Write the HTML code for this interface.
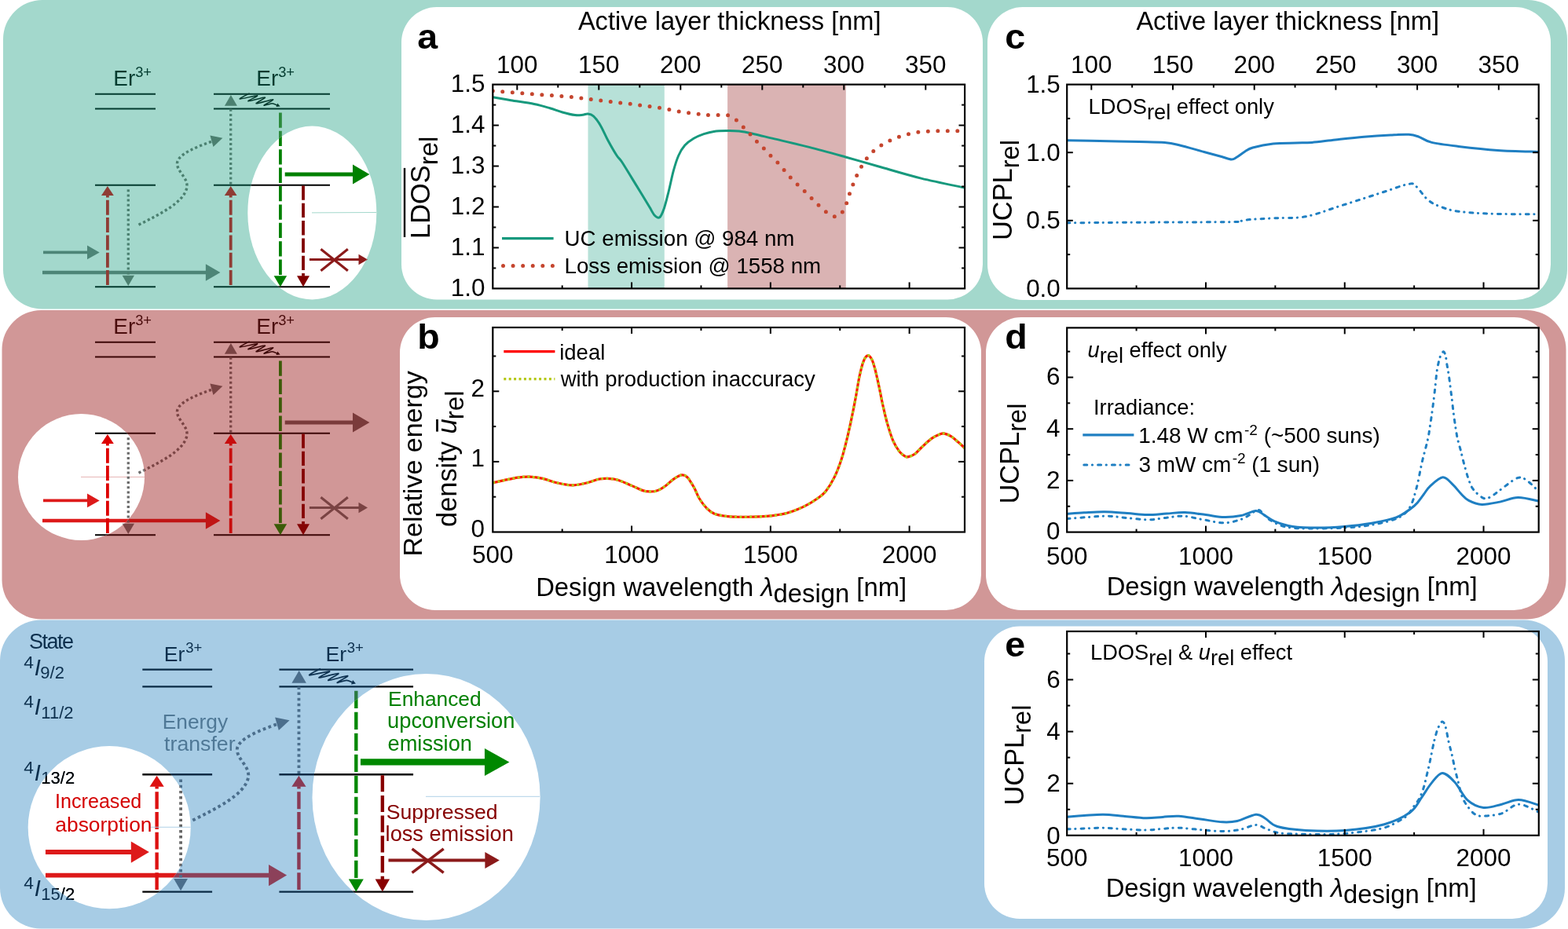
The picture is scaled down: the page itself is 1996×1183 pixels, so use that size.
<!DOCTYPE html><html><head><meta charset="utf-8"><title>Figure</title><style>html,body{margin:0;padding:0;background:#fff;}body{width:1996px;height:1183px;overflow:hidden;}svg{display:block;font-family:'Liberation Sans', Arial, sans-serif;}</style></head><body>
<svg width="1996" height="1183" viewBox="0 0 1996 1183">
<rect x="0" y="0" width="1996" height="1183" fill="#fff"/>
<rect x="4" y="0" width="1991" height="393.6" rx="50" ry="50" fill="#a3d8cc"/>
<rect x="2.5" y="395" width="1991" height="393.5" rx="50" ry="50" fill="#d19797"/>
<rect x="0" y="789.5" width="1992" height="393" rx="52" ry="52" fill="#a7cce5"/>
<rect x="511" y="9" width="740" height="372.5" rx="45" ry="45" fill="#fff"/>
<rect x="1257" y="9" width="717" height="373" rx="45" ry="45" fill="#fff"/>
<rect x="509" y="404" width="740" height="373" rx="45" ry="45" fill="#fff"/>
<rect x="1255" y="404" width="717" height="373" rx="45" ry="45" fill="#fff"/>
<rect x="1253" y="797.5" width="717" height="372.5" rx="45" ry="45" fill="#fff"/>
<defs><clipPath id="hl1"><ellipse cx="397.3" cy="271" rx="82" ry="110.4"/></clipPath><clipPath id="hl2"><circle cx="103.5" cy="291.5" r="80.5"/></clipPath><clipPath id="hl3"><circle cx="84.5" cy="294.1" r="89.8"/><ellipse cx="434.3" cy="260.6" rx="125.8" ry="136.2"/></clipPath></defs>
<g>
<text x="144.3" y="108.9" font-size="27.9" fill="#033b2f">Er<tspan dy="-10.9" font-size="18.3">3+</tspan></text>
<text x="326.3" y="108.9" font-size="27.9" fill="#033b2f">Er<tspan dy="-10.9" font-size="18.3">3+</tspan></text>
<line x1="121" y1="119.8" x2="198" y2="119.8" stroke="#033b2f" stroke-width="2" />
<line x1="272" y1="119.8" x2="420" y2="119.8" stroke="#033b2f" stroke-width="2" />
<line x1="121" y1="138.6" x2="198" y2="138.6" stroke="#033b2f" stroke-width="2" />
<line x1="272" y1="138.6" x2="420" y2="138.6" stroke="#033b2f" stroke-width="2" />
<line x1="121" y1="235.7" x2="198" y2="235.7" stroke="#033b2f" stroke-width="2" />
<line x1="272" y1="235.7" x2="420" y2="235.7" stroke="#033b2f" stroke-width="2" />
<line x1="121" y1="365.2" x2="198" y2="365.2" stroke="#033b2f" stroke-width="2" />
<line x1="272" y1="365.2" x2="420" y2="365.2" stroke="#033b2f" stroke-width="2" />
<line x1="55" y1="321.4" x2="111.5" y2="321.4" stroke="#4d8577" stroke-width="3.6" stroke-linecap="butt" />
<polygon points="126.7,321.4 111,330.25 111,312.55" fill="#4d8577"/>
<line x1="54" y1="347" x2="262.4" y2="347" stroke="#4d8577" stroke-width="4.4" stroke-linecap="butt" />
<polygon points="280.4,347 261.9,357.75 261.9,336.25" fill="#4d8577"/>
<line x1="136.9" y1="363" x2="136.9" y2="248.6" stroke="#8f3c34" stroke-width="3.8" stroke-linecap="butt" stroke-dasharray="19 3.3"/>
<polygon points="136.9,236.9 144.8,249.1 129,249.1" fill="#8f3c34"/>
<line x1="163.3" y1="241.2" x2="163.3" y2="351.3" stroke="#4b8070" stroke-width="3.3" stroke-linecap="butt" stroke-dasharray="3 3.2"/>
<polygon points="163.3,364 155.6,350.8 171,350.8" fill="#4b8070"/>
<path d="M176.5,286.3 C205,272 233,258 237.6,240 C241,227 224,218 225.6,207 C227.5,196 250,187 271,179.6" fill="none" stroke="#4b8070" stroke-width="3.4" stroke-dasharray="3.2 3.1"/>
<polygon points="283.4,175.8 271.5,186.97 267.4,172.54" fill="#4b8070"/>
<line x1="293.7" y1="234.7" x2="293.7" y2="136.5" stroke="#4b8070" stroke-width="3.3" stroke-dasharray="3 3.2"/>
<polygon points="293.9,121 301.9,134.7 285.9,134.7" fill="#4b8070"/>
<line x1="293.7" y1="363" x2="293.7" y2="248.6" stroke="#8f3c34" stroke-width="3.8" stroke-linecap="butt" stroke-dasharray="19 3.3"/>
<polygon points="293.7,236.9 301.6,249.1 285.8,249.1" fill="#8f3c34"/>
<path d="M317.6,118.9 C315.86,119.91 303.88,125.6 305.3,126 C306.72,126.4 326.08,121.3 327.6,121.7 C329.12,122.1 314.61,128.46 316,128.8 C317.39,129.14 335.95,123.67 337.4,124.1 C338.84,124.52 324.75,131.42 326.2,131.8 C327.64,132.18 346.21,126.46 347.6,126.8 C348.99,127.14 336.18,133.51 336,134.2 C335.82,134.89 343.89,131.7 346.3,131.7 C348.71,131.7 352.05,133.85 353,134.2" fill="none" stroke="#063a2e" stroke-width="1.5"/>
<polygon points="356.6,135.4 351.42,136.07 353.22,131.42" fill="#063a2e"/>
<line x1="356.9" y1="143.4" x2="356.9" y2="351.7" stroke="#2b8a3b" stroke-width="3.8" stroke-linecap="butt" stroke-dasharray="19.3 4.1"/>
<polygon points="356.9,365.2 348.65,351.2 365.15,351.2" fill="#2b8a3b"/>
<line x1="386" y1="236.5" x2="386" y2="351.7" stroke="#7d2020" stroke-width="3.8" stroke-linecap="butt" stroke-dasharray="18.3 4"/>
<polygon points="386,365.2 378,351.2 394,351.2" fill="#7d2020"/>
<line x1="362.7" y1="222" x2="449.5" y2="222" stroke="#1a8a2a" stroke-width="5.2" stroke-linecap="butt" />
<polygon points="470.4,222 449,234.5 449,209.5" fill="#1a8a2a"/>
<line x1="393.9" y1="330.5" x2="457" y2="330.5" stroke="#8b1a1a" stroke-width="2.9" stroke-linecap="butt" />
<polygon points="468,330.5 456.5,337.3 456.5,323.7" fill="#8b1a1a"/>
<line x1="408.4" y1="344.8" x2="442.8" y2="317.2" stroke="#8b1a1a" stroke-width="3.1" />
<line x1="408.4" y1="317.2" x2="442.8" y2="344.8" stroke="#8b1a1a" stroke-width="3.1" />
<ellipse cx="397.3" cy="271" rx="82" ry="110.4" fill="#fff"/>
<line x1="397" y1="270.9" x2="479" y2="270.5" stroke="#a3d8cc" stroke-width="1"/>
<g clip-path="url(#hl1)">
<text x="144.3" y="108.9" font-size="27.9" fill="#033b2f">Er<tspan dy="-10.9" font-size="18.3">3+</tspan></text>
<text x="326.3" y="108.9" font-size="27.9" fill="#033b2f">Er<tspan dy="-10.9" font-size="18.3">3+</tspan></text>
<line x1="121" y1="119.8" x2="198" y2="119.8" stroke="#000" stroke-width="2" />
<line x1="272" y1="119.8" x2="420" y2="119.8" stroke="#000" stroke-width="2" />
<line x1="121" y1="138.6" x2="198" y2="138.6" stroke="#000" stroke-width="2" />
<line x1="272" y1="138.6" x2="420" y2="138.6" stroke="#000" stroke-width="2" />
<line x1="121" y1="235.7" x2="198" y2="235.7" stroke="#000" stroke-width="2" />
<line x1="272" y1="235.7" x2="420" y2="235.7" stroke="#000" stroke-width="2" />
<line x1="121" y1="365.2" x2="198" y2="365.2" stroke="#000" stroke-width="2" />
<line x1="272" y1="365.2" x2="420" y2="365.2" stroke="#000" stroke-width="2" />
<line x1="55" y1="321.4" x2="111.5" y2="321.4" stroke="#4d8577" stroke-width="3.6" stroke-linecap="butt" />
<polygon points="126.7,321.4 111,330.25 111,312.55" fill="#4d8577"/>
<line x1="54" y1="347" x2="262.4" y2="347" stroke="#4d8577" stroke-width="4.4" stroke-linecap="butt" />
<polygon points="280.4,347 261.9,357.75 261.9,336.25" fill="#4d8577"/>
<line x1="136.9" y1="363" x2="136.9" y2="248.6" stroke="#8f3c34" stroke-width="3.8" stroke-linecap="butt" stroke-dasharray="19 3.3"/>
<polygon points="136.9,236.9 144.8,249.1 129,249.1" fill="#8f3c34"/>
<line x1="163.3" y1="241.2" x2="163.3" y2="351.3" stroke="#4b8070" stroke-width="3.3" stroke-linecap="butt" stroke-dasharray="3 3.2"/>
<polygon points="163.3,364 155.6,350.8 171,350.8" fill="#4b8070"/>
<path d="M176.5,286.3 C205,272 233,258 237.6,240 C241,227 224,218 225.6,207 C227.5,196 250,187 271,179.6" fill="none" stroke="#4b8070" stroke-width="3.4" stroke-dasharray="3.2 3.1"/>
<polygon points="283.4,175.8 271.5,186.97 267.4,172.54" fill="#4b8070"/>
<line x1="293.7" y1="234.7" x2="293.7" y2="136.5" stroke="#4b8070" stroke-width="3.3" stroke-dasharray="3 3.2"/>
<polygon points="293.9,121 301.9,134.7 285.9,134.7" fill="#4b8070"/>
<line x1="293.7" y1="363" x2="293.7" y2="248.6" stroke="#8f3c34" stroke-width="3.8" stroke-linecap="butt" stroke-dasharray="19 3.3"/>
<polygon points="293.7,236.9 301.6,249.1 285.8,249.1" fill="#8f3c34"/>
<path d="M317.6,118.9 C315.86,119.91 303.88,125.6 305.3,126 C306.72,126.4 326.08,121.3 327.6,121.7 C329.12,122.1 314.61,128.46 316,128.8 C317.39,129.14 335.95,123.67 337.4,124.1 C338.84,124.52 324.75,131.42 326.2,131.8 C327.64,132.18 346.21,126.46 347.6,126.8 C348.99,127.14 336.18,133.51 336,134.2 C335.82,134.89 343.89,131.7 346.3,131.7 C348.71,131.7 352.05,133.85 353,134.2" fill="none" stroke="#063a2e" stroke-width="1.5"/>
<polygon points="356.6,135.4 351.42,136.07 353.22,131.42" fill="#063a2e"/>
<line x1="356.9" y1="143.4" x2="356.9" y2="351.7" stroke="#008000" stroke-width="3.8" stroke-linecap="butt" stroke-dasharray="19.3 4.1"/>
<polygon points="356.9,365.2 348.65,351.2 365.15,351.2" fill="#008000"/>
<line x1="386" y1="236.5" x2="386" y2="351.7" stroke="#800000" stroke-width="3.8" stroke-linecap="butt" stroke-dasharray="18.3 4"/>
<polygon points="386,365.2 378,351.2 394,351.2" fill="#800000"/>
<line x1="362.7" y1="222" x2="449.5" y2="222" stroke="#008000" stroke-width="5.2" stroke-linecap="butt" />
<polygon points="470.4,222 449,234.5 449,209.5" fill="#008000"/>
<line x1="393.9" y1="330.5" x2="457" y2="330.5" stroke="#8b1a1a" stroke-width="2.9" stroke-linecap="butt" />
<polygon points="468,330.5 456.5,337.3 456.5,323.7" fill="#8b1a1a"/>
<line x1="408.4" y1="344.8" x2="442.8" y2="317.2" stroke="#8b1a1a" stroke-width="3.1" />
<line x1="408.4" y1="317.2" x2="442.8" y2="344.8" stroke="#8b1a1a" stroke-width="3.1" />
</g></g>
<g transform="translate(0,316)">
<text x="144.3" y="108.9" font-size="27.9" fill="#4a0c0c">Er<tspan dy="-10.9" font-size="18.3">3+</tspan></text>
<text x="326.3" y="108.9" font-size="27.9" fill="#4a0c0c">Er<tspan dy="-10.9" font-size="18.3">3+</tspan></text>
<line x1="121" y1="119.8" x2="198" y2="119.8" stroke="#3b0606" stroke-width="2" />
<line x1="272" y1="119.8" x2="420" y2="119.8" stroke="#3b0606" stroke-width="2" />
<line x1="121" y1="138.6" x2="198" y2="138.6" stroke="#3b0606" stroke-width="2" />
<line x1="272" y1="138.6" x2="420" y2="138.6" stroke="#3b0606" stroke-width="2" />
<line x1="121" y1="235.7" x2="198" y2="235.7" stroke="#3b0606" stroke-width="2" />
<line x1="272" y1="235.7" x2="420" y2="235.7" stroke="#3b0606" stroke-width="2" />
<line x1="121" y1="365.2" x2="198" y2="365.2" stroke="#3b0606" stroke-width="2" />
<line x1="272" y1="365.2" x2="420" y2="365.2" stroke="#3b0606" stroke-width="2" />
<line x1="55" y1="321.4" x2="111.5" y2="321.4" stroke="#c01515" stroke-width="3.6" stroke-linecap="butt" />
<polygon points="126.7,321.4 111,330.25 111,312.55" fill="#c01515"/>
<line x1="54" y1="347" x2="262.4" y2="347" stroke="#c01515" stroke-width="4.4" stroke-linecap="butt" />
<polygon points="280.4,347 261.9,357.75 261.9,336.25" fill="#c01515"/>
<line x1="136.9" y1="363" x2="136.9" y2="248.6" stroke="#c00c0c" stroke-width="3.8" stroke-linecap="butt" stroke-dasharray="19 3.3"/>
<polygon points="136.9,236.9 144.8,249.1 129,249.1" fill="#c00c0c"/>
<line x1="163.3" y1="241.2" x2="163.3" y2="351.3" stroke="#7a4444" stroke-width="3.3" stroke-linecap="butt" stroke-dasharray="3 3.2"/>
<polygon points="163.3,364 155.6,350.8 171,350.8" fill="#7a4444"/>
<path d="M176.5,286.3 C205,272 233,258 237.6,240 C241,227 224,218 225.6,207 C227.5,196 250,187 271,179.6" fill="none" stroke="#7a4444" stroke-width="3.4" stroke-dasharray="3.2 3.1"/>
<polygon points="283.4,175.8 271.5,186.97 267.4,172.54" fill="#7a4444"/>
<line x1="293.7" y1="234.7" x2="293.7" y2="136.5" stroke="#7a4444" stroke-width="3.3" stroke-dasharray="3 3.2"/>
<polygon points="293.9,121 301.9,134.7 285.9,134.7" fill="#7a4444"/>
<line x1="293.7" y1="363" x2="293.7" y2="248.6" stroke="#c80c0c" stroke-width="3.8" stroke-linecap="butt" stroke-dasharray="19 3.3"/>
<polygon points="293.7,236.9 301.6,249.1 285.8,249.1" fill="#c80c0c"/>
<path d="M317.6,118.9 C315.86,119.91 303.88,125.6 305.3,126 C306.72,126.4 326.08,121.3 327.6,121.7 C329.12,122.1 314.61,128.46 316,128.8 C317.39,129.14 335.95,123.67 337.4,124.1 C338.84,124.52 324.75,131.42 326.2,131.8 C327.64,132.18 346.21,126.46 347.6,126.8 C348.99,127.14 336.18,133.51 336,134.2 C335.82,134.89 343.89,131.7 346.3,131.7 C348.71,131.7 352.05,133.85 353,134.2" fill="none" stroke="#3b0606" stroke-width="1.5"/>
<polygon points="356.6,135.4 351.42,136.07 353.22,131.42" fill="#3b0606"/>
<line x1="356.9" y1="143.4" x2="356.9" y2="351.7" stroke="#3b5b08" stroke-width="3.8" stroke-linecap="butt" stroke-dasharray="19.3 4.1"/>
<polygon points="356.9,365.2 348.65,351.2 365.15,351.2" fill="#3b5b08"/>
<line x1="386" y1="236.5" x2="386" y2="351.7" stroke="#850505" stroke-width="3.8" stroke-linecap="butt" stroke-dasharray="18.3 4"/>
<polygon points="386,365.2 378,351.2 394,351.2" fill="#850505"/>
<line x1="362.7" y1="222" x2="449.5" y2="222" stroke="#7a3b3b" stroke-width="5.2" stroke-linecap="butt" />
<polygon points="470.4,222 449,234.5 449,209.5" fill="#7a3b3b"/>
<line x1="393.9" y1="330.5" x2="457" y2="330.5" stroke="#7a4343" stroke-width="2.9" stroke-linecap="butt" />
<polygon points="468,330.5 456.5,337.3 456.5,323.7" fill="#7a4343"/>
<line x1="408.4" y1="344.8" x2="442.8" y2="317.2" stroke="#7a4343" stroke-width="3.1" />
<line x1="408.4" y1="317.2" x2="442.8" y2="344.8" stroke="#7a4343" stroke-width="3.1" />
<circle cx="103.5" cy="291.5" r="80.5" fill="#fff"/>
<line x1="103" y1="291.4" x2="184" y2="291.4" stroke="#e0a0a0" stroke-width="0.8"/>
<g clip-path="url(#hl2)">
<text x="144.3" y="108.9" font-size="27.9" fill="#4a0c0c">Er<tspan dy="-10.9" font-size="18.3">3+</tspan></text>
<text x="326.3" y="108.9" font-size="27.9" fill="#4a0c0c">Er<tspan dy="-10.9" font-size="18.3">3+</tspan></text>
<line x1="121" y1="119.8" x2="198" y2="119.8" stroke="#000" stroke-width="2" />
<line x1="272" y1="119.8" x2="420" y2="119.8" stroke="#000" stroke-width="2" />
<line x1="121" y1="138.6" x2="198" y2="138.6" stroke="#000" stroke-width="2" />
<line x1="272" y1="138.6" x2="420" y2="138.6" stroke="#000" stroke-width="2" />
<line x1="121" y1="235.7" x2="198" y2="235.7" stroke="#000" stroke-width="2" />
<line x1="272" y1="235.7" x2="420" y2="235.7" stroke="#000" stroke-width="2" />
<line x1="121" y1="365.2" x2="198" y2="365.2" stroke="#000" stroke-width="2" />
<line x1="272" y1="365.2" x2="420" y2="365.2" stroke="#000" stroke-width="2" />
<line x1="55" y1="321.4" x2="111.5" y2="321.4" stroke="#dd1a1a" stroke-width="3.6" stroke-linecap="butt" />
<polygon points="126.7,321.4 111,330.25 111,312.55" fill="#dd1a1a"/>
<line x1="54" y1="347" x2="262.4" y2="347" stroke="#dd1a1a" stroke-width="4.4" stroke-linecap="butt" />
<polygon points="280.4,347 261.9,357.75 261.9,336.25" fill="#dd1a1a"/>
<line x1="136.9" y1="363" x2="136.9" y2="248.6" stroke="#dd0000" stroke-width="3.8" stroke-linecap="butt" stroke-dasharray="19 3.3"/>
<polygon points="136.9,236.9 144.8,249.1 129,249.1" fill="#dd0000"/>
<line x1="163.3" y1="241.2" x2="163.3" y2="351.3" stroke="#6b6b6b" stroke-width="3.3" stroke-linecap="butt" stroke-dasharray="3 3.2"/>
<polygon points="163.3,364 155.6,350.8 171,350.8" fill="#6b6b6b"/>
<path d="M176.5,286.3 C205,272 233,258 237.6,240 C241,227 224,218 225.6,207 C227.5,196 250,187 271,179.6" fill="none" stroke="#6b6b6b" stroke-width="3.4" stroke-dasharray="3.2 3.1"/>
<polygon points="283.4,175.8 271.5,186.97 267.4,172.54" fill="#6b6b6b"/>
<line x1="293.7" y1="234.7" x2="293.7" y2="136.5" stroke="#6b6b6b" stroke-width="3.3" stroke-dasharray="3 3.2"/>
<polygon points="293.9,121 301.9,134.7 285.9,134.7" fill="#6b6b6b"/>
<line x1="293.7" y1="363" x2="293.7" y2="248.6" stroke="#dd0000" stroke-width="3.8" stroke-linecap="butt" stroke-dasharray="19 3.3"/>
<polygon points="293.7,236.9 301.6,249.1 285.8,249.1" fill="#dd0000"/>
<path d="M317.6,118.9 C315.86,119.91 303.88,125.6 305.3,126 C306.72,126.4 326.08,121.3 327.6,121.7 C329.12,122.1 314.61,128.46 316,128.8 C317.39,129.14 335.95,123.67 337.4,124.1 C338.84,124.52 324.75,131.42 326.2,131.8 C327.64,132.18 346.21,126.46 347.6,126.8 C348.99,127.14 336.18,133.51 336,134.2 C335.82,134.89 343.89,131.7 346.3,131.7 C348.71,131.7 352.05,133.85 353,134.2" fill="none" stroke="#3b0606" stroke-width="1.5"/>
<polygon points="356.6,135.4 351.42,136.07 353.22,131.42" fill="#3b0606"/>
<line x1="356.9" y1="143.4" x2="356.9" y2="351.7" stroke="#3b5b08" stroke-width="3.8" stroke-linecap="butt" stroke-dasharray="19.3 4.1"/>
<polygon points="356.9,365.2 348.65,351.2 365.15,351.2" fill="#3b5b08"/>
<line x1="386" y1="236.5" x2="386" y2="351.7" stroke="#850505" stroke-width="3.8" stroke-linecap="butt" stroke-dasharray="18.3 4"/>
<polygon points="386,365.2 378,351.2 394,351.2" fill="#850505"/>
<line x1="362.7" y1="222" x2="449.5" y2="222" stroke="#7a3b3b" stroke-width="5.2" stroke-linecap="butt" />
<polygon points="470.4,222 449,234.5 449,209.5" fill="#7a3b3b"/>
<line x1="393.9" y1="330.5" x2="457" y2="330.5" stroke="#7a4343" stroke-width="2.9" stroke-linecap="butt" />
<polygon points="468,330.5 456.5,337.3 456.5,323.7" fill="#7a4343"/>
<line x1="408.4" y1="344.8" x2="442.8" y2="317.2" stroke="#7a4343" stroke-width="3.1" />
<line x1="408.4" y1="317.2" x2="442.8" y2="344.8" stroke="#7a4343" stroke-width="3.1" />
</g></g>
<g transform="translate(41.8,714.5) scale(1.153)">
<line x1="121" y1="119.8" x2="198" y2="119.8" stroke="#0a2a45" stroke-width="2" />
<line x1="272" y1="119.8" x2="420" y2="119.8" stroke="#0a2a45" stroke-width="2" />
<line x1="121" y1="138.6" x2="198" y2="138.6" stroke="#0a2a45" stroke-width="2" />
<line x1="272" y1="138.6" x2="420" y2="138.6" stroke="#0a2a45" stroke-width="2" />
<line x1="121" y1="235.7" x2="198" y2="235.7" stroke="#0a2a45" stroke-width="2" />
<line x1="272" y1="235.7" x2="420" y2="235.7" stroke="#0a2a45" stroke-width="2" />
<line x1="121" y1="365.2" x2="198" y2="365.2" stroke="#0a2a45" stroke-width="2" />
<line x1="272" y1="365.2" x2="420" y2="365.2" stroke="#0a2a45" stroke-width="2" />
<line x1="14" y1="321.4" x2="108.9" y2="321.4" stroke="#8c415a" stroke-width="5.2" stroke-linecap="butt" />
<polygon points="128.4,321.4 108.4,333.25 108.4,309.55" fill="#8c415a"/>
<line x1="14" y1="347" x2="260.9" y2="347" stroke="#8c415a" stroke-width="4.9" stroke-linecap="butt" />
<polygon points="280.4,347 260.4,358.85 260.4,335.15" fill="#8c415a"/>
<line x1="136.9" y1="363" x2="136.9" y2="248.6" stroke="#8a3a55" stroke-width="3.8" stroke-linecap="butt" stroke-dasharray="19 3.3"/>
<polygon points="136.9,236.9 144.8,249.1 129,249.1" fill="#8a3a55"/>
<line x1="163.3" y1="241.2" x2="163.3" y2="351.3" stroke="#4b6e8c" stroke-width="3.3" stroke-linecap="butt" stroke-dasharray="3 3.2"/>
<polygon points="163.3,364 155.6,350.8 171,350.8" fill="#4b6e8c"/>
<path d="M176.5,286.3 C205,272 233,258 237.6,240 C241,227 224,218 225.6,207 C227.5,196 250,187 271,179.6" fill="none" stroke="#4b6e8c" stroke-width="3.4" stroke-dasharray="3.2 3.1"/>
<polygon points="283.4,175.8 271.5,186.97 267.4,172.54" fill="#4b6e8c"/>
<line x1="293.7" y1="234.7" x2="293.7" y2="136.5" stroke="#4b6e8c" stroke-width="3.3" stroke-dasharray="3 3.2"/>
<polygon points="293.9,121 301.9,134.7 285.9,134.7" fill="#4b6e8c"/>
<line x1="293.7" y1="363" x2="293.7" y2="248.6" stroke="#8a3a55" stroke-width="3.8" stroke-linecap="butt" stroke-dasharray="19 3.3"/>
<polygon points="293.7,236.9 301.6,249.1 285.8,249.1" fill="#8a3a55"/>
<path d="M317.6,118.9 C315.86,119.91 303.88,125.6 305.3,126 C306.72,126.4 326.08,121.3 327.6,121.7 C329.12,122.1 314.61,128.46 316,128.8 C317.39,129.14 335.95,123.67 337.4,124.1 C338.84,124.52 324.75,131.42 326.2,131.8 C327.64,132.18 346.21,126.46 347.6,126.8 C348.99,127.14 336.18,133.51 336,134.2 C335.82,134.89 343.89,131.7 346.3,131.7 C348.71,131.7 352.05,133.85 353,134.2" fill="none" stroke="#0f3352" stroke-width="1.5"/>
<polygon points="356.6,135.4 351.42,136.07 353.22,131.42" fill="#0f3352"/>
<line x1="356.9" y1="143.4" x2="356.9" y2="351.7" stroke="#2a7a40" stroke-width="3.8" stroke-linecap="butt" stroke-dasharray="19.3 4.1"/>
<polygon points="356.9,365.2 348.65,351.2 365.15,351.2" fill="#2a7a40"/>
<line x1="386" y1="236.5" x2="386" y2="351.7" stroke="#7a1a2a" stroke-width="3.8" stroke-linecap="butt" stroke-dasharray="18.3 4"/>
<polygon points="386,365.2 378,351.2 394,351.2" fill="#7a1a2a"/>
<line x1="361.8" y1="222" x2="499.3" y2="222" stroke="#008800" stroke-width="7.2" stroke-linecap="butt" />
<polygon points="526.1,222 498.8,237.2 498.8,206.8" fill="#008800"/>
<line x1="392.6" y1="330.5" x2="499.7" y2="330.5" stroke="#8b1a1a" stroke-width="3.5" stroke-linecap="butt" />
<polygon points="515.2,330.5 499.2,339.6 499.2,321.4" fill="#8b1a1a"/>
<line x1="418.7" y1="344.3" x2="453.5" y2="317.7" stroke="#8b1a1a" stroke-width="3" />
<line x1="418.7" y1="317.7" x2="453.5" y2="344.3" stroke="#8b1a1a" stroke-width="3" />
<circle cx="84.5" cy="294.1" r="89.8" fill="#fff"/>
<ellipse cx="434.3" cy="260.6" rx="125.8" ry="136.2" fill="#fff"/>
<g clip-path="url(#hl3)">
<line x1="121" y1="119.8" x2="198" y2="119.8" stroke="#000" stroke-width="2" />
<line x1="272" y1="119.8" x2="420" y2="119.8" stroke="#000" stroke-width="2" />
<line x1="121" y1="138.6" x2="198" y2="138.6" stroke="#000" stroke-width="2" />
<line x1="272" y1="138.6" x2="420" y2="138.6" stroke="#000" stroke-width="2" />
<line x1="121" y1="235.7" x2="198" y2="235.7" stroke="#000" stroke-width="2" />
<line x1="272" y1="235.7" x2="420" y2="235.7" stroke="#000" stroke-width="2" />
<line x1="121" y1="365.2" x2="198" y2="365.2" stroke="#000" stroke-width="2" />
<line x1="272" y1="365.2" x2="420" y2="365.2" stroke="#000" stroke-width="2" />
<line x1="14" y1="321.4" x2="108.9" y2="321.4" stroke="#dd1a1a" stroke-width="5.2" stroke-linecap="butt" />
<polygon points="128.4,321.4 108.4,333.25 108.4,309.55" fill="#dd1a1a"/>
<line x1="14" y1="347" x2="260.9" y2="347" stroke="#dd1a1a" stroke-width="4.9" stroke-linecap="butt" />
<polygon points="280.4,347 260.4,358.85 260.4,335.15" fill="#dd1a1a"/>
<line x1="136.9" y1="363" x2="136.9" y2="248.6" stroke="#dd1111" stroke-width="3.8" stroke-linecap="butt" stroke-dasharray="19 3.3"/>
<polygon points="136.9,236.9 144.8,249.1 129,249.1" fill="#dd1111"/>
<line x1="163.3" y1="241.2" x2="163.3" y2="351.3" stroke="#666" stroke-width="3.3" stroke-linecap="butt" stroke-dasharray="3 3.2"/>
<polygon points="163.3,364 155.6,350.8 171,350.8" fill="#666"/>
<path d="M176.5,286.3 C205,272 233,258 237.6,240 C241,227 224,218 225.6,207 C227.5,196 250,187 271,179.6" fill="none" stroke="#666" stroke-width="3.4" stroke-dasharray="3.2 3.1"/>
<polygon points="283.4,175.8 271.5,186.97 267.4,172.54" fill="#666"/>
<line x1="293.7" y1="234.7" x2="293.7" y2="136.5" stroke="#666" stroke-width="3.3" stroke-dasharray="3 3.2"/>
<polygon points="293.9,121 301.9,134.7 285.9,134.7" fill="#666"/>
<line x1="293.7" y1="363" x2="293.7" y2="248.6" stroke="#dd1111" stroke-width="3.8" stroke-linecap="butt" stroke-dasharray="19 3.3"/>
<polygon points="293.7,236.9 301.6,249.1 285.8,249.1" fill="#dd1111"/>
<path d="M317.6,118.9 C315.86,119.91 303.88,125.6 305.3,126 C306.72,126.4 326.08,121.3 327.6,121.7 C329.12,122.1 314.61,128.46 316,128.8 C317.39,129.14 335.95,123.67 337.4,124.1 C338.84,124.52 324.75,131.42 326.2,131.8 C327.64,132.18 346.21,126.46 347.6,126.8 C348.99,127.14 336.18,133.51 336,134.2 C335.82,134.89 343.89,131.7 346.3,131.7 C348.71,131.7 352.05,133.85 353,134.2" fill="none" stroke="#0f3352" stroke-width="1.5"/>
<polygon points="356.6,135.4 351.42,136.07 353.22,131.42" fill="#0f3352"/>
<line x1="356.9" y1="143.4" x2="356.9" y2="351.7" stroke="#008800" stroke-width="3.8" stroke-linecap="butt" stroke-dasharray="19.3 4.1"/>
<polygon points="356.9,365.2 348.65,351.2 365.15,351.2" fill="#008800"/>
<line x1="386" y1="236.5" x2="386" y2="351.7" stroke="#880000" stroke-width="3.8" stroke-linecap="butt" stroke-dasharray="18.3 4"/>
<polygon points="386,365.2 378,351.2 394,351.2" fill="#880000"/>
<line x1="361.8" y1="222" x2="499.3" y2="222" stroke="#008800" stroke-width="7.2" stroke-linecap="butt" />
<polygon points="526.1,222 498.8,237.2 498.8,206.8" fill="#008800"/>
<line x1="392.6" y1="330.5" x2="499.7" y2="330.5" stroke="#8b1a1a" stroke-width="3.5" stroke-linecap="butt" />
<polygon points="515.2,330.5 499.2,339.6 499.2,321.4" fill="#8b1a1a"/>
<line x1="418.7" y1="344.3" x2="453.5" y2="317.7" stroke="#8b1a1a" stroke-width="3" />
<line x1="418.7" y1="317.7" x2="453.5" y2="344.3" stroke="#8b1a1a" stroke-width="3" />
</g></g>
<line x1="190.8" y1="1053.3" x2="242.6" y2="1053.3" stroke="#a7cce5" stroke-width="0.9"/>
<line x1="542" y1="1014.3" x2="687" y2="1014.3" stroke="#a7cce5" stroke-width="0.9"/>
<text x="208.8" y="841.5" font-size="26.6" fill="#0c2f4d">Er<tspan dx="0.8" dy="-10.8" font-size="18.5">3+</tspan></text>
<text x="414.4" y="841.5" font-size="26.6" fill="#0c2f4d">Er<tspan dx="0.8" dy="-10.8" font-size="18.5">3+</tspan></text>
<defs><clipPath id="hl3p"><circle cx="139.2" cy="1053.6" r="103.5"/><ellipse cx="542.6" cy="1015" rx="145" ry="157"/></clipPath></defs>
<text x="37" y="825.9" font-size="27" fill="#0c2f4d" textLength="57" lengthAdjust="spacing">State</text>
<text x="30.2" y="850.7" font-size="22.8" fill="#0c2f4d">4</text>
<text x="43.7" y="859.8" font-size="29" font-style="italic" fill="#0c2f4d">I</text>
<text x="51.3" y="864.4" font-size="22" fill="#0c2f4d">9/2</text>
<text x="30.2" y="901.2" font-size="22.8" fill="#0c2f4d">4</text>
<text x="43.7" y="910.3" font-size="29" font-style="italic" fill="#0c2f4d">I</text>
<text x="52.3" y="914.9" font-size="22" fill="#0c2f4d">11/2</text>
<text x="30.2" y="984.7" font-size="22.8" fill="#0c2f4d">4</text>
<text x="43.7" y="993.8" font-size="29" font-style="italic" fill="#0c2f4d">I</text>
<text x="52.3" y="998.4" font-size="22" fill="#0c2f4d">13/2</text>
<text x="30.2" y="1131.9" font-size="22.8" fill="#0c2f4d">4</text>
<text x="43.7" y="1141" font-size="29" font-style="italic" fill="#0c2f4d">I</text>
<text x="52.3" y="1145.6" font-size="22" fill="#0c2f4d">15/2</text>
<g clip-path="url(#hl3p)">
<text x="37" y="825.9" font-size="27" fill="#000" textLength="57" lengthAdjust="spacing">State</text>
<text x="30.2" y="850.7" font-size="22.8" fill="#000">4</text>
<text x="43.7" y="859.8" font-size="29" font-style="italic" fill="#000">I</text>
<text x="51.3" y="864.4" font-size="22" fill="#000">9/2</text>
<text x="30.2" y="901.2" font-size="22.8" fill="#000">4</text>
<text x="43.7" y="910.3" font-size="29" font-style="italic" fill="#000">I</text>
<text x="52.3" y="914.9" font-size="22" fill="#000">11/2</text>
<text x="30.2" y="984.7" font-size="22.8" fill="#000">4</text>
<text x="43.7" y="993.8" font-size="29" font-style="italic" fill="#000">I</text>
<text x="52.3" y="998.4" font-size="22" fill="#000">13/2</text>
<text x="30.2" y="1131.9" font-size="22.8" fill="#000">4</text>
<text x="43.7" y="1141" font-size="29" font-style="italic" fill="#000">I</text>
<text x="52.3" y="1145.6" font-size="22" fill="#000">15/2</text>
</g>
<text x="206.8" y="927.5" font-size="26.3" fill="#4f7896">Energy</text>
<text x="209.1" y="955.7" font-size="26.7" fill="#4f7896">transfer</text>
<text x="70.1" y="1028.9" font-size="25.1" fill="#d40000">Increased</text>
<text x="70.3" y="1058.5" font-size="26.4" fill="#d40000">absorption</text>
<text x="494.1" y="898.9" font-size="26.3" fill="#008000">Enhanced</text>
<text x="493.1" y="927.3" font-size="27.3" fill="#008000">upconversion</text>
<text x="493.6" y="955.7" font-size="27.2" fill="#008000">emission</text>
<text x="491.7" y="1042.6" font-size="26.6" fill="#850000">Suppressed</text>
<text x="490.6" y="1070.6" font-size="27.2" fill="#850000">loss emission</text>
<rect x="748.5" y="107.6" width="97.3" height="259.8" fill="#b7e1d8"/>
<rect x="926.1" y="107.6" width="150.7" height="259.8" fill="#dab3b3"/>
<clipPath id="cpa"><rect x="627.3" y="107.6" width="600.8" height="259.8"/></clipPath>
<g clip-path="url(#cpa)">
<path d="M627.3,123.8 C631.13,124.45 641.52,126.25 650.3,127.7 C659.08,129.15 671.72,130.83 680,132.5 C688.28,134.17 694,135.95 700,137.7 C706,139.45 710.65,141.52 716,143 C721.35,144.48 727.77,146.07 732.1,146.6 C736.43,147.13 739.32,146.47 742,146.2 C744.68,145.93 745.97,144.72 748.2,145 C750.43,145.28 752.73,145.5 755.4,147.9 C758.07,150.3 761.12,154.27 764.2,159.4 C767.28,164.53 770.42,172.27 773.9,178.7 C777.38,185.13 782.17,193.45 785.1,198 C788.03,202.55 788.28,201.18 791.5,206 C794.72,210.82 800.12,219.95 804.4,226.9 C808.68,233.85 813.45,241.55 817.2,247.7 C820.95,253.85 824.22,259.38 826.9,263.8 C829.58,268.22 831.17,272.05 833.3,274.2 C835.43,276.35 837.7,278.17 839.7,276.7 C841.7,275.23 843.42,270.77 845.3,265.4 C847.18,260.03 848.98,252.53 851,244.5 C853.02,236.47 855.27,224.95 857.4,217.2 C859.53,209.45 861.4,203.35 863.8,198 C866.2,192.65 868.58,188.72 871.8,185.1 C875.02,181.48 879.08,178.7 883.1,176.3 C887.12,173.9 891.62,172.18 895.9,170.7 C900.18,169.22 903.98,168.08 908.8,167.4 C913.62,166.72 919.45,166.65 924.8,166.6 C930.15,166.55 935.03,166.42 940.9,167.1 C946.77,167.78 952.82,169.15 960,170.7 C967.18,172.25 972.33,173.62 984,176.4 C995.67,179.18 1014.6,183.47 1030,187.4 C1045.4,191.33 1061.65,195.9 1076.4,200 C1091.15,204.1 1102.47,207.48 1118.5,212 C1134.53,216.52 1154.33,222.58 1172.6,227.1 C1190.87,231.62 1218.85,237.1 1228.1,239.1" fill="none" stroke="#17997d" stroke-width="3" stroke-linejoin="round" />
<path d="M627.3,115.8 C629.47,115.97 634.02,116.3 640.3,116.8 C646.58,117.3 656.65,118.13 665,118.8 C673.35,119.47 682.02,120.18 690.4,120.8 C698.78,121.42 707.02,121.82 715.3,122.5 C723.58,123.18 731.82,123.97 740.1,124.9 C748.38,125.83 756.57,127.08 765,128.1 C773.43,129.12 782.27,130.02 790.7,131 C799.13,131.98 807.3,132.93 815.6,134 C823.9,135.07 832.12,136.03 840.5,137.4 C848.88,138.77 857.6,140.87 865.9,142.2 C874.2,143.53 884.15,144.67 890.3,145.4 C896.45,146.13 898.65,146.43 902.8,146.6 C906.95,146.77 911.2,146.37 915.2,146.4 C919.2,146.43 923.05,145.65 926.8,146.8 C930.55,147.95 934.42,150.75 937.7,153.3 C940.98,155.85 943.48,159.03 946.5,162.1 C949.52,165.17 952.85,168.55 955.8,171.7 C958.75,174.85 961.23,177.88 964.2,181 C967.17,184.12 970.6,187.33 973.6,190.4 C976.6,193.47 979.25,196.38 982.2,199.4 C985.15,202.42 988.38,205.32 991.3,208.5 C994.22,211.68 996.97,215.33 999.7,218.5 C1002.43,221.67 1004.77,224.4 1007.7,227.5 C1010.63,230.6 1014.2,234.1 1017.3,237.1 C1020.4,240.1 1023.28,242.57 1026.3,245.5 C1029.32,248.43 1032.32,251.65 1035.4,254.7 C1038.48,257.75 1041.47,260.82 1044.8,263.8 C1048.13,266.78 1051.8,270.6 1055.4,272.6 C1059,274.6 1063.23,276.8 1066.4,275.8 C1069.57,274.8 1072.3,270.12 1074.4,266.6 C1076.5,263.08 1077.6,258.68 1079,254.7 C1080.4,250.72 1081.38,246.63 1082.8,242.7 C1084.22,238.77 1085.88,234.97 1087.5,231.1 C1089.12,227.23 1090.6,223.27 1092.5,219.5 C1094.4,215.73 1096.63,212.02 1098.9,208.5 C1101.17,204.98 1103.23,201.68 1106.1,198.4 C1108.97,195.12 1112.6,191.53 1116.1,188.8 C1119.6,186.07 1123.28,184.13 1127.1,182 C1130.92,179.87 1135.02,177.62 1139,176 C1142.98,174.38 1146.9,173.47 1151,172.3 C1155.1,171.13 1159.4,169.77 1163.6,169 C1167.8,168.23 1172.02,168.05 1176.2,167.7 C1180.38,167.35 1184.57,167.07 1188.7,166.9 C1192.83,166.73 1196.83,166.73 1201,166.7 C1205.17,166.67 1209.18,166.6 1213.7,166.7 C1218.22,166.8 1225.7,167.2 1228.1,167.3" fill="none" stroke="#c5452e" stroke-width="5" stroke-linejoin="round" stroke-linecap="round" stroke-dasharray="0 12.55"/>
</g>
<rect x="627.3" y="107.6" width="600.8" height="259.8" fill="none" stroke="#000" stroke-width="2.2"/>
<line x1="658.3" y1="107.6" x2="658.3" y2="114.6" stroke="#000" stroke-width="2" />
<line x1="762.3" y1="107.6" x2="762.3" y2="114.6" stroke="#000" stroke-width="2" />
<line x1="866.3" y1="107.6" x2="866.3" y2="114.6" stroke="#000" stroke-width="2" />
<line x1="970.3" y1="107.6" x2="970.3" y2="114.6" stroke="#000" stroke-width="2" />
<line x1="1074.3" y1="107.6" x2="1074.3" y2="114.6" stroke="#000" stroke-width="2" />
<line x1="1178.3" y1="107.6" x2="1178.3" y2="114.6" stroke="#000" stroke-width="2" />
<line x1="710.3" y1="107.6" x2="710.3" y2="111.6" stroke="#000" stroke-width="2" />
<line x1="814.3" y1="107.6" x2="814.3" y2="111.6" stroke="#000" stroke-width="2" />
<line x1="918.3" y1="107.6" x2="918.3" y2="111.6" stroke="#000" stroke-width="2" />
<line x1="1022.3" y1="107.6" x2="1022.3" y2="111.6" stroke="#000" stroke-width="2" />
<line x1="1126.3" y1="107.6" x2="1126.3" y2="111.6" stroke="#000" stroke-width="2" />
<line x1="804.07" y1="367.4" x2="804.07" y2="359.4" stroke="#000" stroke-width="2" />
<line x1="980.85" y1="367.4" x2="980.85" y2="359.4" stroke="#000" stroke-width="2" />
<line x1="1157.62" y1="367.4" x2="1157.62" y2="359.4" stroke="#000" stroke-width="2" />
<line x1="715.69" y1="367.4" x2="715.69" y2="363.4" stroke="#000" stroke-width="2" />
<line x1="892.46" y1="367.4" x2="892.46" y2="363.4" stroke="#000" stroke-width="2" />
<line x1="1069.24" y1="367.4" x2="1069.24" y2="363.4" stroke="#000" stroke-width="2" />
<line x1="627.3" y1="315.44" x2="634.9" y2="315.44" stroke="#000" stroke-width="2" />
<line x1="1228.1" y1="315.44" x2="1220.5" y2="315.44" stroke="#000" stroke-width="2" />
<line x1="627.3" y1="263.48" x2="634.9" y2="263.48" stroke="#000" stroke-width="2" />
<line x1="1228.1" y1="263.48" x2="1220.5" y2="263.48" stroke="#000" stroke-width="2" />
<line x1="627.3" y1="211.52" x2="634.9" y2="211.52" stroke="#000" stroke-width="2" />
<line x1="1228.1" y1="211.52" x2="1220.5" y2="211.52" stroke="#000" stroke-width="2" />
<line x1="627.3" y1="159.56" x2="634.9" y2="159.56" stroke="#000" stroke-width="2" />
<line x1="1228.1" y1="159.56" x2="1220.5" y2="159.56" stroke="#000" stroke-width="2" />
<line x1="627.3" y1="341.42" x2="631.3" y2="341.42" stroke="#000" stroke-width="2" />
<line x1="1228.1" y1="341.42" x2="1224.1" y2="341.42" stroke="#000" stroke-width="2" />
<line x1="627.3" y1="289.46" x2="631.3" y2="289.46" stroke="#000" stroke-width="2" />
<line x1="1228.1" y1="289.46" x2="1224.1" y2="289.46" stroke="#000" stroke-width="2" />
<line x1="627.3" y1="237.5" x2="631.3" y2="237.5" stroke="#000" stroke-width="2" />
<line x1="1228.1" y1="237.5" x2="1224.1" y2="237.5" stroke="#000" stroke-width="2" />
<line x1="627.3" y1="185.54" x2="631.3" y2="185.54" stroke="#000" stroke-width="2" />
<line x1="1228.1" y1="185.54" x2="1224.1" y2="185.54" stroke="#000" stroke-width="2" />
<line x1="627.3" y1="133.58" x2="631.3" y2="133.58" stroke="#000" stroke-width="2" />
<line x1="1228.1" y1="133.58" x2="1224.1" y2="133.58" stroke="#000" stroke-width="2" />
<text x="658.3" y="92.6" font-size="31.4" fill="#000" text-anchor="middle" font-weight="normal" font-style="normal" >100</text>
<text x="762.3" y="92.6" font-size="31.4" fill="#000" text-anchor="middle" font-weight="normal" font-style="normal" >150</text>
<text x="866.3" y="92.6" font-size="31.4" fill="#000" text-anchor="middle" font-weight="normal" font-style="normal" >200</text>
<text x="970.3" y="92.6" font-size="31.4" fill="#000" text-anchor="middle" font-weight="normal" font-style="normal" >250</text>
<text x="1074.3" y="92.6" font-size="31.4" fill="#000" text-anchor="middle" font-weight="normal" font-style="normal" >300</text>
<text x="1178.3" y="92.6" font-size="31.4" fill="#000" text-anchor="middle" font-weight="normal" font-style="normal" >350</text>
<text x="617.5" y="377" font-size="31.4" fill="#000" text-anchor="end" font-weight="normal" font-style="normal" >1.0</text>
<text x="617.5" y="325.04" font-size="31.4" fill="#000" text-anchor="end" font-weight="normal" font-style="normal" >1.1</text>
<text x="617.5" y="273.08" font-size="31.4" fill="#000" text-anchor="end" font-weight="normal" font-style="normal" >1.2</text>
<text x="617.5" y="221.12" font-size="31.4" fill="#000" text-anchor="end" font-weight="normal" font-style="normal" >1.3</text>
<text x="617.5" y="169.16" font-size="31.4" fill="#000" text-anchor="end" font-weight="normal" font-style="normal" >1.4</text>
<text x="617.5" y="117.2" font-size="31.4" fill="#000" text-anchor="end" font-weight="normal" font-style="normal" >1.5</text>
<text x="735.9" y="37.6" font-size="32.6" fill="#000" text-anchor="start" font-weight="normal" font-style="normal" >Active layer thickness [nm]</text>
<text transform="translate(531.2,62) scale(1.07,1)" x="0" y="0" font-size="43.5" font-weight="bold" fill="#000">a</text>
<text transform="translate(546.8,304) rotate(-90)" font-size="34.4">LDOS<tspan dy="10" font-size="33">rel</tspan></text>
<line x1="515" y1="302" x2="515" y2="213.9" stroke="#000" stroke-width="2.4" />
<line x1="639" y1="303.7" x2="704.6" y2="303.7" stroke="#17997d" stroke-width="3.2" />
<line x1="640.5" y1="338.6" x2="704" y2="338.6" stroke="#c5452e" stroke-width="5" stroke-linecap="round" stroke-dasharray="0 12.58"/>
<text x="718.6" y="313.3" font-size="27.7" fill="#000" text-anchor="start" font-weight="normal" font-style="normal" >UC emission @ 984 nm</text>
<text x="718.5" y="348.4" font-size="27.7" fill="#000" text-anchor="start" font-weight="normal" font-style="normal" >Loss emission @ 1558 nm</text>
<clipPath id="cpc"><rect x="1358.2" y="107.6" width="600.5" height="259.8"/></clipPath>
<g clip-path="url(#cpc)">
<path d="M1358.2,178.8 C1365.17,178.93 1384.7,179.3 1400,179.6 C1415.3,179.9 1436.25,180.27 1450,180.6 C1463.75,180.93 1474.17,180.95 1482.5,181.6 C1490.83,182.25 1491.32,182.43 1500,184.5 C1508.68,186.57 1525.43,191.5 1534.6,194 C1543.77,196.5 1549.5,198 1555,199.5 C1560.5,201 1564.33,202.92 1567.6,203 C1570.87,203.08 1571.75,201.67 1574.6,200 C1577.45,198.33 1581.35,195 1584.7,193 C1588.05,191 1588.7,189.67 1594.7,188 C1600.7,186.33 1611.48,184 1620.7,183 C1629.92,182 1641.78,182.27 1650,182 C1658.22,181.73 1661.67,182.07 1670,181.4 C1678.33,180.73 1688.95,179.18 1700,178 C1711.05,176.82 1724.63,175.3 1736.3,174.3 C1747.97,173.3 1760.48,172.5 1770,172 C1779.52,171.5 1787.33,170.92 1793.4,171.3 C1799.47,171.68 1801.55,172.62 1806.4,174.3 C1811.25,175.98 1814.15,179.38 1822.5,181.4 C1830.85,183.42 1842.48,184.73 1856.5,186.4 C1870.52,188.07 1889.57,190.23 1906.6,191.4 C1923.63,192.57 1950.02,193.07 1958.7,193.4" fill="none" stroke="#1f7fc2" stroke-width="3" stroke-linejoin="round" />
<path d="M1358.2,283.8 C1373.57,283.7 1415.5,283.4 1450.4,283.2 C1485.3,283 1545.88,282.93 1567.6,282.6 C1589.32,282.27 1576.85,281.7 1580.7,281.2 C1584.55,280.7 1583.82,280.17 1590.7,279.6 C1597.58,279.03 1610.12,278.43 1622,277.8 C1633.88,277.17 1647.97,278.4 1662,275.8 C1676.03,273.2 1690.48,267.15 1706.2,262.2 C1721.92,257.25 1741.93,250.72 1756.3,246.1 C1770.67,241.48 1784.72,236 1792.4,234.5 C1800.08,233 1798.07,233.65 1802.4,237.1 C1806.73,240.55 1812.72,250.68 1818.4,255.2 C1824.08,259.72 1830.15,261.87 1836.5,264.2 C1842.85,266.53 1846.48,267.87 1856.5,269.2 C1866.52,270.53 1879.57,271.6 1896.6,272.2 C1913.63,272.8 1948.35,272.7 1958.7,272.8" fill="none" stroke="#1f7fc2" stroke-width="3" stroke-linejoin="round" stroke-linecap="round" stroke-dasharray="4 6.5 0.3 7"/>
</g>
<rect x="1358.2" y="107.6" width="600.5" height="259.8" fill="none" stroke="#000" stroke-width="2.2"/>
<line x1="1389.3" y1="107.6" x2="1389.3" y2="114.6" stroke="#000" stroke-width="2" />
<line x1="1493" y1="107.6" x2="1493" y2="114.6" stroke="#000" stroke-width="2" />
<line x1="1596.7" y1="107.6" x2="1596.7" y2="114.6" stroke="#000" stroke-width="2" />
<line x1="1700.4" y1="107.6" x2="1700.4" y2="114.6" stroke="#000" stroke-width="2" />
<line x1="1804.1" y1="107.6" x2="1804.1" y2="114.6" stroke="#000" stroke-width="2" />
<line x1="1907.8" y1="107.6" x2="1907.8" y2="114.6" stroke="#000" stroke-width="2" />
<line x1="1441.15" y1="107.6" x2="1441.15" y2="111.6" stroke="#000" stroke-width="2" />
<line x1="1544.85" y1="107.6" x2="1544.85" y2="111.6" stroke="#000" stroke-width="2" />
<line x1="1648.55" y1="107.6" x2="1648.55" y2="111.6" stroke="#000" stroke-width="2" />
<line x1="1752.25" y1="107.6" x2="1752.25" y2="111.6" stroke="#000" stroke-width="2" />
<line x1="1855.95" y1="107.6" x2="1855.95" y2="111.6" stroke="#000" stroke-width="2" />
<line x1="1534.97" y1="367.4" x2="1534.97" y2="359.4" stroke="#000" stroke-width="2" />
<line x1="1711.75" y1="367.4" x2="1711.75" y2="359.4" stroke="#000" stroke-width="2" />
<line x1="1888.53" y1="367.4" x2="1888.53" y2="359.4" stroke="#000" stroke-width="2" />
<line x1="1446.59" y1="367.4" x2="1446.59" y2="363.4" stroke="#000" stroke-width="2" />
<line x1="1623.36" y1="367.4" x2="1623.36" y2="363.4" stroke="#000" stroke-width="2" />
<line x1="1800.14" y1="367.4" x2="1800.14" y2="363.4" stroke="#000" stroke-width="2" />
<line x1="1358.2" y1="280.8" x2="1365.8" y2="280.8" stroke="#000" stroke-width="2" />
<line x1="1958.7" y1="280.8" x2="1951.1" y2="280.8" stroke="#000" stroke-width="2" />
<line x1="1358.2" y1="194.2" x2="1365.8" y2="194.2" stroke="#000" stroke-width="2" />
<line x1="1958.7" y1="194.2" x2="1951.1" y2="194.2" stroke="#000" stroke-width="2" />
<line x1="1358.2" y1="324.1" x2="1362.2" y2="324.1" stroke="#000" stroke-width="2" />
<line x1="1958.7" y1="324.1" x2="1954.7" y2="324.1" stroke="#000" stroke-width="2" />
<line x1="1358.2" y1="237.5" x2="1362.2" y2="237.5" stroke="#000" stroke-width="2" />
<line x1="1958.7" y1="237.5" x2="1954.7" y2="237.5" stroke="#000" stroke-width="2" />
<line x1="1358.2" y1="150.9" x2="1362.2" y2="150.9" stroke="#000" stroke-width="2" />
<line x1="1958.7" y1="150.9" x2="1954.7" y2="150.9" stroke="#000" stroke-width="2" />
<text x="1389.3" y="92.6" font-size="31.4" fill="#000" text-anchor="middle" font-weight="normal" font-style="normal" >100</text>
<text x="1493" y="92.6" font-size="31.4" fill="#000" text-anchor="middle" font-weight="normal" font-style="normal" >150</text>
<text x="1596.7" y="92.6" font-size="31.4" fill="#000" text-anchor="middle" font-weight="normal" font-style="normal" >200</text>
<text x="1700.4" y="92.6" font-size="31.4" fill="#000" text-anchor="middle" font-weight="normal" font-style="normal" >250</text>
<text x="1804.1" y="92.6" font-size="31.4" fill="#000" text-anchor="middle" font-weight="normal" font-style="normal" >300</text>
<text x="1907.8" y="92.6" font-size="31.4" fill="#000" text-anchor="middle" font-weight="normal" font-style="normal" >350</text>
<text x="1349.8" y="377.8" font-size="31.4" fill="#000" text-anchor="end" font-weight="normal" font-style="normal" >0.0</text>
<text x="1349.8" y="291.2" font-size="31.4" fill="#000" text-anchor="end" font-weight="normal" font-style="normal" >0.5</text>
<text x="1349.8" y="204.6" font-size="31.4" fill="#000" text-anchor="end" font-weight="normal" font-style="normal" >1.0</text>
<text x="1349.8" y="118" font-size="31.4" fill="#000" text-anchor="end" font-weight="normal" font-style="normal" >1.5</text>
<text x="1446.4" y="37.6" font-size="32.6" fill="#000" text-anchor="start" font-weight="normal" font-style="normal" >Active layer thickness [nm]</text>
<text transform="translate(1279.2,62) scale(1.07,1)" x="0" y="0" font-size="43.5" font-weight="bold" fill="#000">c</text>
<text transform="translate(1288.3,306) rotate(-90)" font-size="34.4">UCPL<tspan dy="9" font-size="32.5">rel</tspan></text>
<text x="1385.6" y="145.3" font-size="27.3">LDOS<tspan dy="7">rel</tspan><tspan dy="-7"> effect only</tspan></text>
<clipPath id="cpb"><rect x="627.3" y="417" width="600.7" height="260.5"/></clipPath>
<g clip-path="url(#cpb)">
<path d="M627.3,614.78 C629.66,614.26 636.14,612.76 641.44,611.64 C646.75,610.52 653.64,608.81 659.12,608.06 C664.6,607.31 669.02,606.94 674.32,607.16 C679.63,607.39 685.22,608.13 690.94,609.4 C696.65,610.67 702.37,613.36 708.62,614.78 C714.86,616.2 721.93,617.92 728.42,617.92 C734.9,617.92 741.97,616.05 747.51,614.78 C753.05,613.51 757.47,611.2 761.65,610.3 C765.83,609.4 768.48,609.25 772.61,609.4 C776.73,609.55 781.15,609.7 786.4,611.2 C791.64,612.69 798.77,616.12 804.07,618.36 C809.38,620.6 814.45,623.37 818.22,624.64 C821.99,625.91 823.76,625.91 826.7,625.98 C829.65,626.05 832.59,626.2 835.89,625.08 C839.19,623.96 842.97,621.72 846.5,619.26 C850.04,616.8 853.57,612.69 857.11,610.3 C860.64,607.91 864.77,605.37 867.71,604.92 C870.66,604.48 872.13,604.92 874.78,607.61 C877.44,610.3 881.09,616.57 883.62,621.05 C886.16,625.53 887.34,630.16 889.99,634.49 C892.64,638.82 896.29,643.75 899.53,647.04 C902.77,650.32 905.31,652.49 909.43,654.2 C913.56,655.92 919.45,656.67 924.28,657.34 C929.11,658.01 933.77,658.09 938.42,658.24 C943.08,658.39 947.5,658.31 952.21,658.24 C956.93,658.16 961.94,658.01 966.71,657.79 C971.48,657.56 974.96,657.64 980.85,656.89 C986.74,656.15 994.76,655.4 1002.06,653.31 C1009.37,651.22 1018.21,647.48 1024.69,644.35 C1031.17,641.21 1036.53,637.63 1040.95,634.49 C1045.37,631.36 1047.67,630.01 1051.21,625.53 C1054.74,621.05 1058.87,614.33 1062.17,607.61 C1065.47,600.89 1068.35,593.28 1071.01,585.21 C1073.66,577.15 1075.9,568.04 1078.08,559.23 C1080.26,550.42 1082.14,541.61 1084.09,532.35 C1086.03,523.09 1088.09,512.49 1089.74,503.68 C1091.39,494.87 1092.4,486.8 1093.99,479.48 C1095.58,472.17 1097.46,464.25 1099.29,459.77 C1101.12,455.29 1103.18,452.9 1104.95,452.6 C1106.71,452.31 1108.42,455.14 1109.9,457.98 C1111.37,460.82 1112.31,464.1 1113.78,469.63 C1115.26,475.15 1117.08,483.52 1118.73,491.13 C1120.38,498.75 1121.92,507.41 1123.68,515.32 C1125.45,523.24 1127.16,531 1129.34,538.62 C1131.52,546.24 1134.11,554.9 1136.77,561.02 C1139.42,567.14 1142.66,572 1145.25,575.36 C1147.84,578.72 1150.44,580.13 1152.32,581.18 C1154.21,582.23 1154.5,582.15 1156.56,581.63 C1158.63,581.11 1161.99,579.99 1164.7,578.04 C1167.41,576.1 1169.29,573.27 1172.83,569.98 C1176.36,566.69 1181.96,561.17 1185.91,558.33 C1189.86,555.49 1193.8,554 1196.52,552.96 C1199.23,551.91 1199.82,551.61 1202.17,552.06 C1204.53,552.51 1207.77,553.85 1210.66,555.64 C1213.54,557.44 1216.55,560.27 1219.5,562.81 C1222.44,565.35 1226.86,569.53 1228.34,570.88" fill="none" stroke="#ff1a00" stroke-width="3.2" stroke-linejoin="round" />
<path d="M627.3,614.78 C629.66,614.26 636.14,612.76 641.44,611.64 C646.75,610.52 653.64,608.81 659.12,608.06 C664.6,607.31 669.02,606.94 674.32,607.16 C679.63,607.39 685.22,608.13 690.94,609.4 C696.65,610.67 702.37,613.36 708.62,614.78 C714.86,616.2 721.93,617.92 728.42,617.92 C734.9,617.92 741.97,616.05 747.51,614.78 C753.05,613.51 757.47,611.2 761.65,610.3 C765.83,609.4 768.48,609.25 772.61,609.4 C776.73,609.55 781.15,609.7 786.4,611.2 C791.64,612.69 798.77,616.12 804.07,618.36 C809.38,620.6 814.45,623.37 818.22,624.64 C821.99,625.91 823.76,625.91 826.7,625.98 C829.65,626.05 832.59,626.2 835.89,625.08 C839.19,623.96 842.97,621.72 846.5,619.26 C850.04,616.8 853.57,612.69 857.11,610.3 C860.64,607.91 864.77,605.37 867.71,604.92 C870.66,604.48 872.13,604.92 874.78,607.61 C877.44,610.3 881.09,616.57 883.62,621.05 C886.16,625.53 887.34,630.16 889.99,634.49 C892.64,638.82 896.29,643.75 899.53,647.04 C902.77,650.32 905.31,652.49 909.43,654.2 C913.56,655.92 919.45,656.67 924.28,657.34 C929.11,658.01 933.77,658.09 938.42,658.24 C943.08,658.39 947.5,658.31 952.21,658.24 C956.93,658.16 961.94,658.01 966.71,657.79 C971.48,657.56 974.96,657.64 980.85,656.89 C986.74,656.15 994.76,655.4 1002.06,653.31 C1009.37,651.22 1018.21,647.48 1024.69,644.35 C1031.17,641.21 1036.53,637.63 1040.95,634.49 C1045.37,631.36 1047.67,630.01 1051.21,625.53 C1054.74,621.05 1058.87,614.33 1062.17,607.61 C1065.47,600.89 1068.35,593.28 1071.01,585.21 C1073.66,577.15 1075.9,568.04 1078.08,559.23 C1080.26,550.42 1082.14,541.61 1084.09,532.35 C1086.03,523.09 1088.09,512.49 1089.74,503.68 C1091.39,494.87 1092.4,486.8 1093.99,479.48 C1095.58,472.17 1097.46,464.25 1099.29,459.77 C1101.12,455.29 1103.18,452.9 1104.95,452.6 C1106.71,452.31 1108.42,455.14 1109.9,457.98 C1111.37,460.82 1112.31,464.1 1113.78,469.63 C1115.26,475.15 1117.08,483.52 1118.73,491.13 C1120.38,498.75 1121.92,507.41 1123.68,515.32 C1125.45,523.24 1127.16,531 1129.34,538.62 C1131.52,546.24 1134.11,554.9 1136.77,561.02 C1139.42,567.14 1142.66,572 1145.25,575.36 C1147.84,578.72 1150.44,580.13 1152.32,581.18 C1154.21,582.23 1154.5,582.15 1156.56,581.63 C1158.63,581.11 1161.99,579.99 1164.7,578.04 C1167.41,576.1 1169.29,573.27 1172.83,569.98 C1176.36,566.69 1181.96,561.17 1185.91,558.33 C1189.86,555.49 1193.8,554 1196.52,552.96 C1199.23,551.91 1199.82,551.61 1202.17,552.06 C1204.53,552.51 1207.77,553.85 1210.66,555.64 C1213.54,557.44 1216.55,560.27 1219.5,562.81 C1222.44,565.35 1226.86,569.53 1228.34,570.88" fill="none" stroke="#b4c814" stroke-width="3.2" stroke-linejoin="round" stroke-dasharray="3 3.4"/>
</g>
<rect x="627.3" y="417" width="600.7" height="260.5" fill="none" stroke="#000" stroke-width="2.2"/>
<line x1="804.07" y1="417" x2="804.07" y2="425" stroke="#000" stroke-width="2" />
<line x1="804.07" y1="677.5" x2="804.07" y2="669.5" stroke="#000" stroke-width="2" />
<line x1="980.85" y1="417" x2="980.85" y2="425" stroke="#000" stroke-width="2" />
<line x1="980.85" y1="677.5" x2="980.85" y2="669.5" stroke="#000" stroke-width="2" />
<line x1="1157.62" y1="417" x2="1157.62" y2="425" stroke="#000" stroke-width="2" />
<line x1="1157.62" y1="677.5" x2="1157.62" y2="669.5" stroke="#000" stroke-width="2" />
<line x1="715.69" y1="417" x2="715.69" y2="421" stroke="#000" stroke-width="2" />
<line x1="715.69" y1="677.5" x2="715.69" y2="673.5" stroke="#000" stroke-width="2" />
<line x1="892.46" y1="417" x2="892.46" y2="421" stroke="#000" stroke-width="2" />
<line x1="892.46" y1="677.5" x2="892.46" y2="673.5" stroke="#000" stroke-width="2" />
<line x1="1069.24" y1="417" x2="1069.24" y2="421" stroke="#000" stroke-width="2" />
<line x1="1069.24" y1="677.5" x2="1069.24" y2="673.5" stroke="#000" stroke-width="2" />
<line x1="627.3" y1="587.9" x2="635.3" y2="587.9" stroke="#000" stroke-width="2" />
<line x1="1228" y1="587.9" x2="1220" y2="587.9" stroke="#000" stroke-width="2" />
<line x1="627.3" y1="498.3" x2="635.3" y2="498.3" stroke="#000" stroke-width="2" />
<line x1="1228" y1="498.3" x2="1220" y2="498.3" stroke="#000" stroke-width="2" />
<line x1="627.3" y1="632.7" x2="631.3" y2="632.7" stroke="#000" stroke-width="2" />
<line x1="1228" y1="632.7" x2="1224" y2="632.7" stroke="#000" stroke-width="2" />
<line x1="627.3" y1="543.1" x2="631.3" y2="543.1" stroke="#000" stroke-width="2" />
<line x1="1228" y1="543.1" x2="1224" y2="543.1" stroke="#000" stroke-width="2" />
<line x1="627.3" y1="453.5" x2="631.3" y2="453.5" stroke="#000" stroke-width="2" />
<line x1="1228" y1="453.5" x2="1224" y2="453.5" stroke="#000" stroke-width="2" />
<text x="627.3" y="716.9" font-size="31.4" fill="#000" text-anchor="middle" font-weight="normal" font-style="normal" >500</text>
<text x="804.07" y="716.9" font-size="31.4" fill="#000" text-anchor="middle" font-weight="normal" font-style="normal" >1000</text>
<text x="980.85" y="716.9" font-size="31.4" fill="#000" text-anchor="middle" font-weight="normal" font-style="normal" >1500</text>
<text x="1157.62" y="716.9" font-size="31.4" fill="#000" text-anchor="middle" font-weight="normal" font-style="normal" >2000</text>
<text x="617" y="683.9" font-size="31.4" fill="#000" text-anchor="end" font-weight="normal" font-style="normal" >0</text>
<text x="617" y="594.3" font-size="31.4" fill="#000" text-anchor="end" font-weight="normal" font-style="normal" >1</text>
<text x="617" y="504.7" font-size="31.4" fill="#000" text-anchor="end" font-weight="normal" font-style="normal" >2</text>
<text transform="translate(531.2,444) scale(1.07,1)" x="0" y="0" font-size="43.5" font-weight="bold" fill="#000">b</text>
<text transform="translate(537,708.5) rotate(-90)" font-size="34">Relative energy</text>
<text transform="translate(581,671) rotate(-90)" font-size="34.4">density <tspan font-style="italic">u</tspan><tspan dy="9" dx="-0.8" font-size="33">rel</tspan></text>
<line x1="556.5" y1="549.6" x2="556.5" y2="534" stroke="#000" stroke-width="2.8" />
<line x1="641.3" y1="447.7" x2="706.4" y2="447.7" stroke="#ff0000" stroke-width="3.2" />
<line x1="641.3" y1="482.6" x2="706.4" y2="482.6" stroke="#b4c814" stroke-width="3.2" stroke-dasharray="3 3.4"/>
<text x="712.2" y="457.6" font-size="27.5" fill="#000" text-anchor="start" font-weight="normal" font-style="normal" >ideal</text>
<text x="713.7" y="492.2" font-size="27.5" fill="#000" text-anchor="start" font-weight="normal" font-style="normal" >with production inaccuracy</text>
<text x="682.2" y="759" font-size="32.8">Design wavelength <tspan font-style="italic">λ</tspan><tspan dy="8">design</tspan><tspan dy="-8"> [nm]</tspan></text>
<clipPath id="cpd"><rect x="1358.2" y="417.4" width="600.5" height="260.2"/></clipPath>
<g clip-path="url(#cpd)">
<path d="M1358.2,654.2 C1361.83,653.97 1371.98,653.2 1380,652.8 C1388.02,652.4 1397.13,651.67 1406.3,651.8 C1415.47,651.93 1425.98,652.97 1435,653.6 C1444.02,654.23 1452.07,655.53 1460.4,655.6 C1468.73,655.67 1476.98,654.5 1485,654 C1493.02,653.5 1500.17,652.33 1508.5,652.6 C1516.83,652.87 1526.65,654.6 1535,655.6 C1543.35,656.6 1551.1,658.45 1558.6,658.6 C1566.1,658.75 1573.32,657.83 1580,656.5 C1586.68,655.17 1593.87,650.75 1598.7,650.6 C1603.53,650.45 1605.05,653.4 1609,655.6 C1612.95,657.8 1616.32,661.33 1622.4,663.8 C1628.48,666.27 1636.17,669.03 1645.5,670.4 C1654.83,671.77 1667.42,672 1678.4,672 C1689.38,672 1700.4,671.33 1711.4,670.4 C1722.4,669.47 1733.4,668.32 1744.4,666.4 C1755.4,664.48 1768.05,662.63 1777.4,658.9 C1786.75,655.17 1794.73,648.82 1800.5,644 C1806.27,639.18 1808.72,634.12 1812,630 C1815.28,625.88 1816.08,623.02 1820.2,619.3 C1824.32,615.58 1831.75,607.98 1836.7,607.7 C1841.65,607.42 1846.02,614.05 1849.9,617.6 C1853.78,621.15 1856.7,625.7 1860,629 C1863.3,632.3 1865.33,635.17 1869.7,637.4 C1874.07,639.63 1879.6,642.12 1886.2,642.4 C1892.8,642.68 1901.6,640.58 1909.3,639.1 C1917,637.62 1924.17,633.67 1932.4,633.5 C1940.63,633.33 1954.32,637.33 1958.7,638.1" fill="none" stroke="#1f7fc2" stroke-width="3" stroke-linejoin="round" />
<path d="M1358.2,660.6 C1362.67,660.25 1376.32,659.07 1385,658.5 C1393.68,657.93 1401.97,657.02 1410.3,657.2 C1418.63,657.38 1426.32,658.83 1435,659.6 C1443.68,660.37 1454.07,661.87 1462.4,661.8 C1470.73,661.73 1477.65,659.97 1485,659.2 C1492.35,658.43 1498.67,656.77 1506.5,657.2 C1514.33,657.63 1523.32,660.37 1532,661.8 C1540.68,663.23 1550.27,666.02 1558.6,665.8 C1566.93,665.58 1574.98,663.2 1582,660.5 C1589.02,657.8 1596.37,650.6 1600.7,649.6 C1605.03,648.6 1605.33,652.4 1608,654.5 C1610.67,656.6 1612.2,659.53 1616.7,662.2 C1621.2,664.87 1627.45,668.7 1635,670.5 C1642.55,672.3 1649.27,672.75 1662,673 C1674.73,673.25 1697.57,672.75 1711.4,672 C1725.23,671.25 1734,670.42 1745,668.5 C1756,666.58 1769.25,664.03 1777.4,660.5 C1785.55,656.97 1789.63,653.72 1793.9,647.3 C1798.17,640.88 1800.27,631.88 1803,622 C1805.73,612.12 1807.9,598.33 1810.3,588 C1812.7,577.67 1815.72,567.6 1817.4,560 C1819.08,552.4 1819.38,548.88 1820.4,542.4 C1821.42,535.92 1822.48,528.7 1823.5,521.1 C1824.52,513.5 1825.58,504.73 1826.5,496.8 C1827.42,488.87 1828.23,479.25 1829,473.5 C1829.77,467.75 1830.4,465.47 1831.1,462.3 C1831.8,459.13 1832.15,456.92 1833.2,454.5 C1834.25,452.08 1836.23,447.97 1837.4,447.8 C1838.57,447.63 1839.43,450.67 1840.2,453.5 C1840.97,456.33 1841.32,460.72 1842,464.8 C1842.68,468.88 1843.55,472.97 1844.3,478 C1845.05,483.03 1845.83,489.83 1846.5,495 C1847.17,500.17 1847.67,503.8 1848.3,509 C1848.93,514.2 1849.53,520.28 1850.3,526.2 C1851.07,532.12 1852.05,539.08 1852.9,544.5 C1853.75,549.92 1854.3,553.78 1855.4,558.7 C1856.5,563.62 1858.07,568.45 1859.5,574 C1860.93,579.55 1862.25,585.67 1864,592 C1865.75,598.33 1867.95,606.63 1870,612 C1872.05,617.37 1873.05,620.4 1876.3,624.2 C1879.55,628 1885.55,633.67 1889.5,634.8 C1893.45,635.93 1896.7,632.77 1900,631 C1903.3,629.23 1903.9,627.97 1909.3,624.2 C1914.7,620.43 1926.45,610.27 1932.4,608.4 C1938.35,606.53 1940.62,610.08 1945,613 C1949.38,615.92 1956.42,623.75 1958.7,625.9" fill="none" stroke="#1f7fc2" stroke-width="3" stroke-linejoin="round" stroke-linecap="round" stroke-dasharray="4 6.5 0.3 7"/>
</g>
<rect x="1358.2" y="417.4" width="600.5" height="260.2" fill="none" stroke="#000" stroke-width="2.2"/>
<line x1="1534.97" y1="417.4" x2="1534.97" y2="425.4" stroke="#000" stroke-width="2" />
<line x1="1534.97" y1="677.6" x2="1534.97" y2="669.6" stroke="#000" stroke-width="2" />
<line x1="1711.75" y1="417.4" x2="1711.75" y2="425.4" stroke="#000" stroke-width="2" />
<line x1="1711.75" y1="677.6" x2="1711.75" y2="669.6" stroke="#000" stroke-width="2" />
<line x1="1888.53" y1="417.4" x2="1888.53" y2="425.4" stroke="#000" stroke-width="2" />
<line x1="1888.53" y1="677.6" x2="1888.53" y2="669.6" stroke="#000" stroke-width="2" />
<line x1="1446.59" y1="417.4" x2="1446.59" y2="421.4" stroke="#000" stroke-width="2" />
<line x1="1446.59" y1="677.6" x2="1446.59" y2="673.6" stroke="#000" stroke-width="2" />
<line x1="1623.36" y1="417.4" x2="1623.36" y2="421.4" stroke="#000" stroke-width="2" />
<line x1="1623.36" y1="677.6" x2="1623.36" y2="673.6" stroke="#000" stroke-width="2" />
<line x1="1800.14" y1="417.4" x2="1800.14" y2="421.4" stroke="#000" stroke-width="2" />
<line x1="1800.14" y1="677.6" x2="1800.14" y2="673.6" stroke="#000" stroke-width="2" />
<line x1="1358.2" y1="611.9" x2="1366.2" y2="611.9" stroke="#000" stroke-width="2" />
<line x1="1958.7" y1="611.9" x2="1950.7" y2="611.9" stroke="#000" stroke-width="2" />
<line x1="1358.2" y1="546.2" x2="1366.2" y2="546.2" stroke="#000" stroke-width="2" />
<line x1="1958.7" y1="546.2" x2="1950.7" y2="546.2" stroke="#000" stroke-width="2" />
<line x1="1358.2" y1="480.5" x2="1366.2" y2="480.5" stroke="#000" stroke-width="2" />
<line x1="1958.7" y1="480.5" x2="1950.7" y2="480.5" stroke="#000" stroke-width="2" />
<line x1="1358.2" y1="644.75" x2="1362.2" y2="644.75" stroke="#000" stroke-width="2" />
<line x1="1958.7" y1="644.75" x2="1954.7" y2="644.75" stroke="#000" stroke-width="2" />
<line x1="1358.2" y1="579.05" x2="1362.2" y2="579.05" stroke="#000" stroke-width="2" />
<line x1="1958.7" y1="579.05" x2="1954.7" y2="579.05" stroke="#000" stroke-width="2" />
<line x1="1358.2" y1="513.35" x2="1362.2" y2="513.35" stroke="#000" stroke-width="2" />
<line x1="1958.7" y1="513.35" x2="1954.7" y2="513.35" stroke="#000" stroke-width="2" />
<line x1="1358.2" y1="447.65" x2="1362.2" y2="447.65" stroke="#000" stroke-width="2" />
<line x1="1958.7" y1="447.65" x2="1954.7" y2="447.65" stroke="#000" stroke-width="2" />
<text x="1358.2" y="719.3" font-size="31.4" fill="#000" text-anchor="middle" font-weight="normal" font-style="normal" >500</text>
<text x="1534.97" y="719.3" font-size="31.4" fill="#000" text-anchor="middle" font-weight="normal" font-style="normal" >1000</text>
<text x="1711.75" y="719.3" font-size="31.4" fill="#000" text-anchor="middle" font-weight="normal" font-style="normal" >1500</text>
<text x="1888.53" y="719.3" font-size="31.4" fill="#000" text-anchor="middle" font-weight="normal" font-style="normal" >2000</text>
<text x="1349.5" y="687.2" font-size="31.4" fill="#000" text-anchor="end" font-weight="normal" font-style="normal" >0</text>
<text x="1349.5" y="621.5" font-size="31.4" fill="#000" text-anchor="end" font-weight="normal" font-style="normal" >2</text>
<text x="1349.5" y="555.8" font-size="31.4" fill="#000" text-anchor="end" font-weight="normal" font-style="normal" >4</text>
<text x="1349.5" y="490.1" font-size="31.4" fill="#000" text-anchor="end" font-weight="normal" font-style="normal" >6</text>
<text transform="translate(1279.2,444) scale(1.07,1)" x="0" y="0" font-size="43.5" font-weight="bold" fill="#000">d</text>
<text transform="translate(1297.1,641.5) rotate(-90)" font-size="34.4">UCPL<tspan dy="9" font-size="32.5">rel</tspan></text>
<text x="1384.5" y="455.1" font-size="27.3"><tspan font-style="italic">u</tspan><tspan dy="7">rel</tspan><tspan dy="-7"> effect only</tspan></text>
<text x="1392" y="528.3" font-size="27.3" fill="#000" text-anchor="start" font-weight="normal" font-style="normal" >Irradiance:</text>
<line x1="1378.3" y1="553.9" x2="1443.4" y2="553.9" stroke="#1f7fc2" stroke-width="3.2" />
<line x1="1379.8" y1="592" x2="1437" y2="592" stroke="#1f7fc2" stroke-width="3" stroke-linecap="round" stroke-dasharray="4 6.5 0.3 7"/>
<text x="1449.2" y="564" font-size="27.9">1.48 W cm<tspan dx="1.5" dy="-10.5" font-size="19">-2</tspan><tspan dy="10.5"> (~500 suns)</tspan></text>
<text x="1449.4" y="600.5" font-size="27.9">3 mW cm<tspan dx="1.5" dy="-10.5" font-size="19">-2</tspan><tspan dy="10.5"> (1 sun)</tspan></text>
<text x="1408.7" y="758.4" font-size="32.8">Design wavelength <tspan font-style="italic">λ</tspan><tspan dy="8">design</tspan><tspan dy="-8"> [nm]</tspan></text>
<clipPath id="cpe"><rect x="1358.2" y="804" width="600.6" height="259.8"/></clipPath>
<g clip-path="url(#cpe)">
<path d="M1358.2,1040.2 C1361.83,1039.93 1372.32,1039.1 1380,1038.6 C1387.68,1038.1 1395.97,1037.1 1404.3,1037.2 C1412.63,1037.3 1420.98,1038.43 1430,1039.2 C1439.02,1039.97 1450.07,1041.6 1458.4,1041.8 C1466.73,1042 1472.98,1040.83 1480,1040.4 C1487.02,1039.97 1492.5,1038.77 1500.5,1039.2 C1508.5,1039.63 1518.65,1041.73 1528,1043 C1537.35,1044.27 1548.77,1046.38 1556.6,1046.8 C1564.43,1047.22 1567.98,1047.1 1575,1045.5 C1582.02,1043.9 1592.75,1037.75 1598.7,1037.2 C1604.65,1036.65 1606.15,1039.65 1610.7,1042.2 C1615.25,1044.75 1617.38,1049.97 1626,1052.5 C1634.62,1055.03 1648.02,1056.58 1662.4,1057.4 C1676.78,1058.22 1695.68,1058.67 1712.3,1057.4 C1728.92,1056.13 1748.27,1053.67 1762.1,1049.8 C1775.93,1045.93 1787.32,1040 1795.3,1034.2 C1803.28,1028.4 1805.57,1021.1 1810,1015 C1814.43,1008.9 1817.58,1002.7 1821.9,997.6 C1826.22,992.5 1830.92,984.67 1835.9,984.4 C1840.88,984.13 1846.38,990.2 1851.8,996 C1857.22,1001.8 1862.3,1013.78 1868.4,1019.2 C1874.5,1024.62 1881.2,1027.67 1888.4,1028.5 C1895.6,1029.33 1904.13,1025.85 1911.6,1024.2 C1919.07,1022.55 1925.33,1018.43 1933.2,1018.6 C1941.07,1018.77 1954.53,1024.1 1958.8,1025.2" fill="none" stroke="#1f7fc2" stroke-width="3" stroke-linejoin="round" />
<path d="M1358.2,1055.8 C1361.83,1055.67 1372.32,1055.27 1380,1055 C1387.68,1054.73 1395.97,1054.07 1404.3,1054.2 C1412.63,1054.33 1420.98,1055.33 1430,1055.8 C1439.02,1056.27 1450.07,1057.07 1458.4,1057 C1466.73,1056.93 1472.98,1055.87 1480,1055.4 C1487.02,1054.93 1492.5,1054 1500.5,1054.2 C1508.5,1054.4 1518.65,1055.87 1528,1056.6 C1537.35,1057.33 1548.27,1058.62 1556.6,1058.6 C1564.93,1058.58 1570.98,1057.83 1578,1056.5 C1585.02,1055.17 1593.03,1050.77 1598.7,1050.6 C1604.37,1050.43 1606.92,1053.8 1612,1055.5 C1617.08,1057.2 1621.2,1059.68 1629.2,1060.8 C1637.2,1061.92 1648.92,1061.93 1660,1062.2 C1671.08,1062.47 1684.03,1062.85 1695.7,1062.4 C1707.37,1061.95 1718.93,1060.88 1730,1059.5 C1741.07,1058.12 1752.93,1056.85 1762.1,1054.1 C1771.27,1051.35 1779.9,1045.9 1785,1043 C1790.1,1040.1 1790.28,1039.33 1792.7,1036.7 C1795.12,1034.07 1797.47,1030.02 1799.5,1027.2 C1801.53,1024.38 1803.43,1022.05 1804.9,1019.8 C1806.37,1017.55 1807.07,1016.53 1808.3,1013.7 C1809.53,1010.87 1811.07,1006.87 1812.3,1002.8 C1813.53,998.73 1814.45,994.48 1815.7,989.3 C1816.95,984.12 1818.45,977.9 1819.8,971.7 C1821.15,965.5 1822.67,957.38 1823.8,952.1 C1824.93,946.82 1825.47,944.17 1826.6,940 C1827.73,935.83 1829.03,930.62 1830.6,927.1 C1832.17,923.58 1834.42,919.13 1836,918.9 C1837.58,918.67 1838.75,921.4 1840.1,925.7 C1841.45,930 1842.75,938.83 1844.1,944.7 C1845.45,950.57 1846.85,955.05 1848.2,960.9 C1849.55,966.75 1850.85,973.93 1852.2,979.8 C1853.55,985.67 1854.93,990.68 1856.3,996.1 C1857.67,1001.52 1859.05,1008.13 1860.4,1012.3 C1861.75,1016.47 1863.05,1018.62 1864.4,1021.1 C1865.75,1023.58 1866.8,1024.95 1868.5,1027.2 C1870.2,1029.45 1872.68,1032.8 1874.6,1034.6 C1876.52,1036.4 1877.7,1037.23 1880,1038 C1882.3,1038.77 1883.13,1039.57 1888.4,1039.2 C1893.67,1038.83 1904.13,1038.3 1911.6,1035.8 C1919.07,1033.3 1925.33,1024.47 1933.2,1024.2 C1941.07,1023.93 1954.53,1032.53 1958.8,1034.2" fill="none" stroke="#1f7fc2" stroke-width="3" stroke-linejoin="round" stroke-linecap="round" stroke-dasharray="4 6.5 0.3 7"/>
</g>
<rect x="1358.2" y="804" width="600.6" height="259.8" fill="none" stroke="#000" stroke-width="2.2"/>
<line x1="1534.97" y1="804" x2="1534.97" y2="812" stroke="#000" stroke-width="2" />
<line x1="1534.97" y1="1063.8" x2="1534.97" y2="1055.8" stroke="#000" stroke-width="2" />
<line x1="1711.75" y1="804" x2="1711.75" y2="812" stroke="#000" stroke-width="2" />
<line x1="1711.75" y1="1063.8" x2="1711.75" y2="1055.8" stroke="#000" stroke-width="2" />
<line x1="1888.53" y1="804" x2="1888.53" y2="812" stroke="#000" stroke-width="2" />
<line x1="1888.53" y1="1063.8" x2="1888.53" y2="1055.8" stroke="#000" stroke-width="2" />
<line x1="1446.59" y1="804" x2="1446.59" y2="808" stroke="#000" stroke-width="2" />
<line x1="1446.59" y1="1063.8" x2="1446.59" y2="1059.8" stroke="#000" stroke-width="2" />
<line x1="1623.36" y1="804" x2="1623.36" y2="808" stroke="#000" stroke-width="2" />
<line x1="1623.36" y1="1063.8" x2="1623.36" y2="1059.8" stroke="#000" stroke-width="2" />
<line x1="1800.14" y1="804" x2="1800.14" y2="808" stroke="#000" stroke-width="2" />
<line x1="1800.14" y1="1063.8" x2="1800.14" y2="1059.8" stroke="#000" stroke-width="2" />
<line x1="1358.2" y1="997.7" x2="1366.2" y2="997.7" stroke="#000" stroke-width="2" />
<line x1="1958.8" y1="997.7" x2="1950.8" y2="997.7" stroke="#000" stroke-width="2" />
<line x1="1358.2" y1="931.6" x2="1366.2" y2="931.6" stroke="#000" stroke-width="2" />
<line x1="1958.8" y1="931.6" x2="1950.8" y2="931.6" stroke="#000" stroke-width="2" />
<line x1="1358.2" y1="865.5" x2="1366.2" y2="865.5" stroke="#000" stroke-width="2" />
<line x1="1958.8" y1="865.5" x2="1950.8" y2="865.5" stroke="#000" stroke-width="2" />
<line x1="1358.2" y1="1030.75" x2="1362.2" y2="1030.75" stroke="#000" stroke-width="2" />
<line x1="1958.8" y1="1030.75" x2="1954.8" y2="1030.75" stroke="#000" stroke-width="2" />
<line x1="1358.2" y1="964.65" x2="1362.2" y2="964.65" stroke="#000" stroke-width="2" />
<line x1="1958.8" y1="964.65" x2="1954.8" y2="964.65" stroke="#000" stroke-width="2" />
<line x1="1358.2" y1="898.55" x2="1362.2" y2="898.55" stroke="#000" stroke-width="2" />
<line x1="1958.8" y1="898.55" x2="1954.8" y2="898.55" stroke="#000" stroke-width="2" />
<line x1="1358.2" y1="832.45" x2="1362.2" y2="832.45" stroke="#000" stroke-width="2" />
<line x1="1958.8" y1="832.45" x2="1954.8" y2="832.45" stroke="#000" stroke-width="2" />
<text x="1358.2" y="1103.3" font-size="31.4" fill="#000" text-anchor="middle" font-weight="normal" font-style="normal" >500</text>
<text x="1534.97" y="1103.3" font-size="31.4" fill="#000" text-anchor="middle" font-weight="normal" font-style="normal" >1000</text>
<text x="1711.75" y="1103.3" font-size="31.4" fill="#000" text-anchor="middle" font-weight="normal" font-style="normal" >1500</text>
<text x="1888.53" y="1103.3" font-size="31.4" fill="#000" text-anchor="middle" font-weight="normal" font-style="normal" >2000</text>
<text x="1349.8" y="1074.5" font-size="31.4" fill="#000" text-anchor="end" font-weight="normal" font-style="normal" >0</text>
<text x="1349.8" y="1008.4" font-size="31.4" fill="#000" text-anchor="end" font-weight="normal" font-style="normal" >2</text>
<text x="1349.8" y="942.3" font-size="31.4" fill="#000" text-anchor="end" font-weight="normal" font-style="normal" >4</text>
<text x="1349.8" y="876.2" font-size="31.4" fill="#000" text-anchor="end" font-weight="normal" font-style="normal" >6</text>
<text transform="translate(1279.2,835.5) scale(1.07,1)" x="0" y="0" font-size="43.5" font-weight="bold" fill="#000">e</text>
<text transform="translate(1303,1025.5) rotate(-90)" font-size="34.4">UCPL<tspan dy="9" font-size="32.5">rel</tspan></text>
<text x="1388" y="839.7" font-size="27.25">LDOS<tspan dy="7">rel</tspan><tspan dy="-7"> &amp; </tspan><tspan font-style="italic">u</tspan><tspan dy="7">rel</tspan><tspan dy="-7"> effect</tspan></text>
<text x="1407.7" y="1142.4" font-size="32.8">Design wavelength <tspan font-style="italic">λ</tspan><tspan dy="8">design</tspan><tspan dy="-8"> [nm]</tspan></text>
</svg></body></html>
